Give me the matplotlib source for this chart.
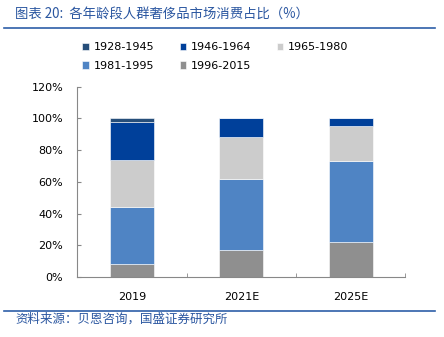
import numpy as np
import matplotlib.pyplot as plt
from matplotlib.lines import Line2D

plt.rcParams["font.family"] = ["DejaVu Sans", "Noto Sans CJK SC"]

years = ["2019", "2021E", "2025E"]
g_1996_2015 = [8, 17, 22]
g_1981_1995 = [36, 45, 51]
g_1965_1980 = [30, 26, 22]
g_1946_1964 = [24, 12, 5]
g_1928_1945 = [2, 0, 0]

series = [
    ("1996-2015", g_1996_2015, "#8f8f8f"),
    ("1981-1995", g_1981_1995, "#4f84c4"),
    ("1965-1980", g_1965_1980, "#cccccc"),
    ("1946-1964", g_1946_1964, "#00409a"),
    ("1928-1945", g_1928_1945, "#264e7a"),
]

fig = plt.figure(figsize=(4.44, 3.37), dpi=100)
ax = fig.add_axes([0.174, 0.178, 0.739, 0.565])

x = np.arange(len(years))
bottom = np.zeros(len(years))
handles = {}
for name, vals, col in series:
    vals = np.array(vals) / 100
    b = ax.bar(x, vals, 0.4, bottom=bottom, color=col, edgecolor="white", linewidth=0.4)
    handles[name] = b
    bottom += vals

ax.set_xlim(-0.5, 2.5)
ax.set_ylim(0, 1.2)
ax.set_yticks(np.arange(0, 1.21, 0.2))
ax.set_yticklabels(["{:.0f}%".format(v * 100) for v in np.arange(0, 1.21, 0.2)], fontsize=8)
ax.set_xticks(x)
ax.set_xticklabels(years, fontsize=8)
ax.set_xticks([0.5, 1.5, 2.5], minor=True)
ax.tick_params(axis="x", which="major", length=0, pad=11)
ax.tick_params(axis="x", which="minor", direction="in", length=3, color="#888888")
ax.tick_params(axis="y", direction="in", length=3, color="#888888", pad=10)

ax.spines["right"].set_visible(False)
ax.spines["top"].set_visible(False)
ax.spines["left"].set_color("#888888")
ax.spines["bottom"].set_color("#888888")

order = ["1928-1945", "1981-1995", "1946-1964", "1996-2015", "1965-1980"]
fig.legend(
    [handles[n] for n in order], order,
    loc="upper left", bbox_to_anchor=(0.163, 0.905), ncol=3, fontsize=8,
    frameon=False, handlelength=0.6, handleheight=0.6, handletextpad=0.4,
    columnspacing=2.3, labelspacing=0.8,
)

cjk = ["Noto Sans CJK SC", "DejaVu Sans"]
fig.text(0.034, 0.958, "图表 20:  各年龄段人群奢侈品市场消费占比（%）", fontsize=9.6,
         color="#2a56a0", style="italic", family=cjk, va="center")
fig.add_artist(Line2D([0.01, 0.98], [0.917, 0.917], color="#2e5fa8", linewidth=1.2))
fig.add_artist(Line2D([0.01, 0.98], [0.077, 0.077], color="#2e5fa8", linewidth=1.2))
fig.text(0.034, 0.053, "资料来源：贝恩咨询，国盛证券研究所", fontsize=9,
         color="#2a56a0", style="italic", family=cjk, va="center")

fig.savefig("out.png", dpi=100)
